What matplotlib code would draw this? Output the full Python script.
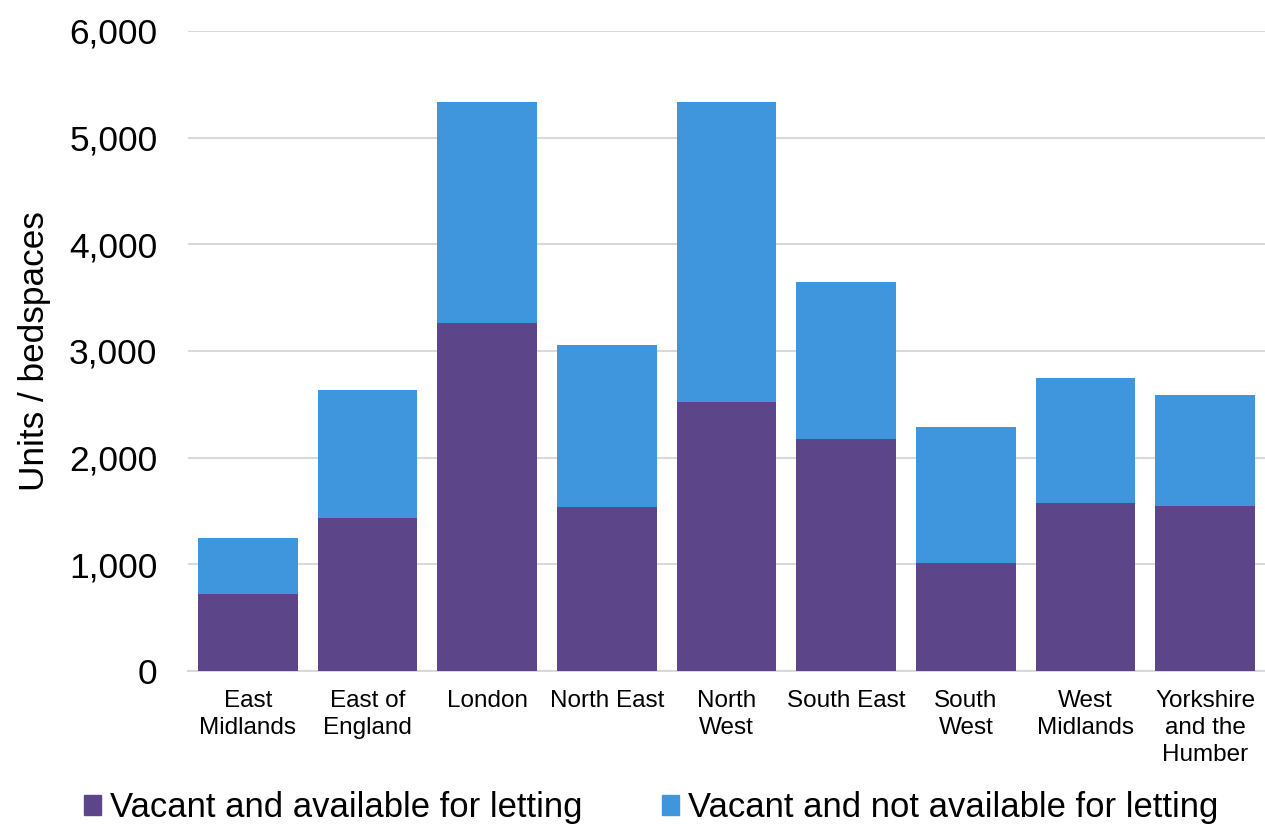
import matplotlib
matplotlib.use("Agg")
import matplotlib.pyplot as plt
from matplotlib.patches import Patch
import numpy as np

plt.rcParams['font.family'] = ['Liberation Sans', 'DejaVu Sans']

categories = ["East\nMidlands", "East of\nEngland", "London", "North East", "North\nWest",
              "South East", "South\nWest", "West\nMidlands", "Yorkshire\nand the\nHumber"]
available = [725, 1438, 3266, 1541, 2520, 2175, 1012, 1572, 1547]
totals = [1244, 2634, 5337, 3060, 5330, 3647, 2287, 2747, 2587]
not_available = [t - a for t, a in zip(totals, available)]
series_names = ["Vacant and available for letting", "Vacant and not available for letting"]
colors = ["#5c4689", "#4096dc"]

fig = plt.figure(figsize=(12.65, 8.24), dpi=100)
ax = fig.add_axes([188/1265, 153/824, 1077/1265, 640/824])

x = np.arange(len(categories))
w = 0.835
ax.bar(x, available, w, color=colors[0], zorder=3)
ax.bar(x, not_available, w, bottom=available, color=colors[1], zorder=3)

ax.set_xlim(-0.5, len(categories) - 0.5)
ax.set_ylim(0, 6000)
ax.set_yticks(range(0, 6001, 1000))
ax.yaxis.set_major_formatter(matplotlib.ticker.FuncFormatter(lambda v, p: f"{int(v):,}"))
ax.grid(axis='y', color='#d9d9d9', linewidth=1.5, zorder=0)
for s in ['top', 'right', 'left']:
    ax.spines[s].set_visible(False)
ax.spines['bottom'].set_color('#d9d9d9')
ax.spines['bottom'].set_linewidth(1.5)
ax.tick_params(axis='y', length=0, pad=22, labelsize=25.5)
ax.tick_params(axis='x', length=0, pad=14, labelsize=17.5)
ax.set_xticks(x)
ax.set_xticklabels(categories, linespacing=1.27)
ax.set_ylabel("Units / bedspaces", fontsize=25.3, labelpad=13)

handles = [Patch(color=c) for c in colors]
fig.legend(handles, series_names, loc='center', bbox_to_anchor=(651/1265, 16/824),
           ncol=2, frameon=False, fontsize=24.9, handlelength=0.5, handleheight=0.5,
           handletextpad=0.25, columnspacing=2.3, borderaxespad=0)

fig.savefig("out.png", dpi=100)
